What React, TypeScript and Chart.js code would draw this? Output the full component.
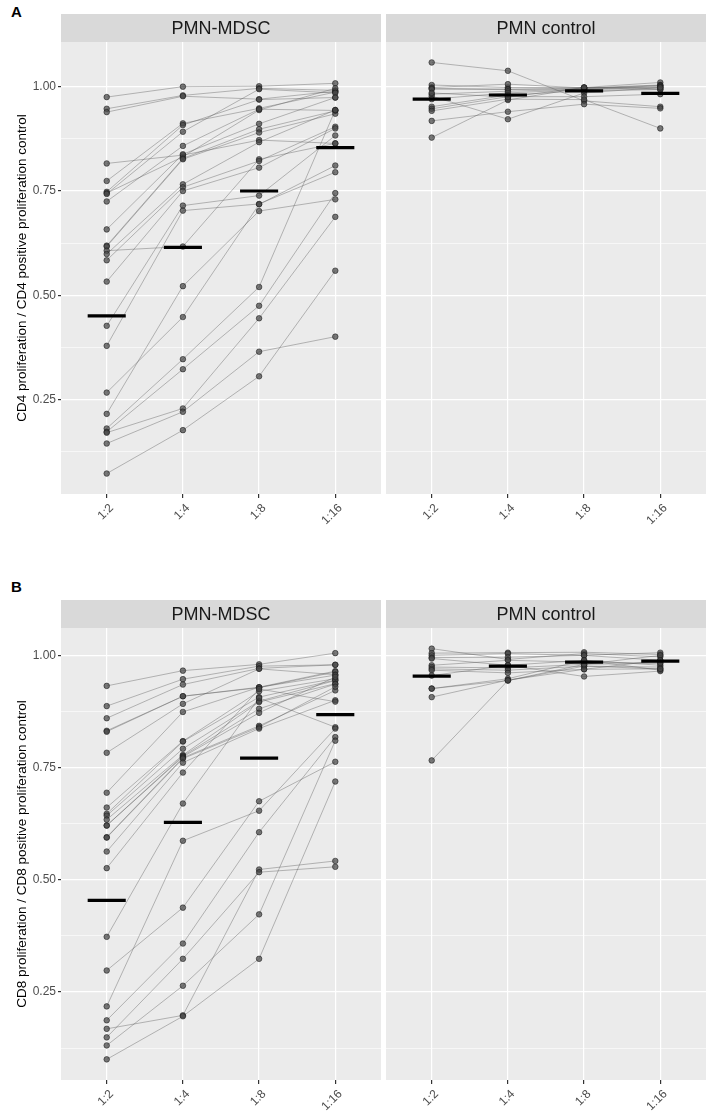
import React, { useEffect, useRef } from "react";
import { Chart, registerables } from "chart.js";

Chart.register(...registerables);

const ratioLabels = ["1:2", "1:4", "1:8", "1:16"];
const facetTitles = ["PMN-MDSC", "PMN control"];
const yMajorTicks = [0.25, 0.5, 0.75, 1.0];
const yGridTicks = [0.125, 0.25, 0.375, 0.5, 0.625, 0.75, 0.875, 1.0];

// Panel A (CD4), PMN-MDSC — one entry per donor, one array per ratio
const cd4MdscR2 = [0.975, 0.947, 0.939, 0.816, 0.774, 0.748, 0.745, 0.743, 0.725, 0.658, 0.619, 0.617, 0.607, 0.599, 0.584, 0.533, 0.427, 0.379, 0.267, 0.216, 0.181, 0.173, 0.171, 0.145, 0.073];
const cd4MdscR4 = [1.0, 0.979, 0.977, 0.836, 0.912, 0.908, 0.832, 0.892, 0.858, 0.838, 0.828, 0.826, 0.617, 0.766, 0.759, 0.75, 0.715, 0.703, 0.448, 0.522, 0.347, 0.323, 0.229, 0.221, 0.177];
const cd4MdscR8 = [1.001, 0.996, 0.97, 0.872, 0.948, 0.969, 0.944, 0.994, 0.946, 0.911, 0.898, 0.89, 0.826, 0.867, 0.822, 0.806, 0.739, 0.719, 0.718, 0.702, 0.52, 0.475, 0.445, 0.365, 0.306];
const cd4MdscR16 = [1.008, 0.991, 0.989, 0.864, 0.987, 0.974, 0.996, 0.985, 0.943, 0.974, 0.942, 0.935, 0.864, 0.944, 0.904, 0.9, 0.883, 0.795, 0.811, 0.73, 0.944, 0.745, 0.688, 0.401, 0.559];
const cd4MdscBars = [0.451, 0.615, 0.75, 0.854];

// Panel A (CD4), PMN control
const cd4CtrlR2 = [1.058, 1.004, 0.998, 0.996, 0.994, 0.982, 0.977, 0.97, 0.952, 0.947, 0.942, 0.918, 0.878, 0.985];
const cd4CtrlR4 = [1.038, 0.998, 1.006, 0.994, 0.993, 0.989, 0.922, 0.985, 0.98, 0.976, 0.97, 0.94, 0.968, 0.975];
const cd4CtrlR8 = [0.966, 0.998, 0.997, 0.996, 0.995, 0.994, 0.985, 0.993, 0.99, 0.976, 0.969, 0.958, 0.998, 0.998];
const cd4CtrlR16 = [0.952, 1.01, 1.004, 1.003, 1.002, 1.0, 0.998, 0.996, 0.993, 0.982, 0.9, 0.948, 0.993, 0.998];
const cd4CtrlBars = [0.97, 0.98, 0.99, 0.984];

// Panel B (CD8), PMN-MDSC
const cd8MdscR2 = [0.932, 0.887, 0.86, 0.832, 0.83, 0.783, 0.694, 0.661, 0.647, 0.643, 0.634, 0.621, 0.621, 0.595, 0.594, 0.563, 0.526, 0.373, 0.298, 0.218, 0.187, 0.168, 0.149, 0.131, 0.1];
const cd8MdscR4 = [0.966, 0.947, 0.935, 0.909, 0.909, 0.892, 0.874, 0.809, 0.808, 0.792, 0.778, 0.776, 0.774, 0.772, 0.77, 0.761, 0.739, 0.67, 0.438, 0.587, 0.358, 0.198, 0.324, 0.264, 0.196];
const cd8MdscR8 = [0.98, 0.976, 0.971, 0.929, 0.928, 0.97, 0.929, 0.92, 0.907, 0.898, 0.896, 0.881, 0.872, 0.843, 0.84, 0.837, 0.925, 0.905, 0.675, 0.654, 0.606, 0.523, 0.517, 0.423, 0.324];
const cd8MdscR16 = [1.005, 0.979, 0.979, 0.965, 0.963, 0.957, 0.956, 0.948, 0.945, 0.944, 0.937, 0.936, 0.952, 0.922, 0.93, 0.9, 0.897, 0.84, 0.763, 0.837, 0.818, 0.542, 0.529, 0.81, 0.719];
const cd8MdscBars = [0.454, 0.628, 0.771, 0.868];

// Panel B (CD8), PMN control
const cd8CtrlR2 = [1.015, 1.005, 1.0, 0.995, 0.993, 0.978, 0.974, 0.97, 0.967, 0.955, 0.926, 0.926, 0.907, 0.766];
const cd8CtrlR4 = [0.991, 1.006, 1.004, 0.996, 0.978, 0.989, 0.972, 0.967, 0.961, 0.978, 0.948, 0.944, 0.945, 0.944];
const cd8CtrlR8 = [1.004, 1.007, 1.0, 1.0, 0.989, 0.985, 0.98, 0.976, 0.969, 0.953, 0.989, 0.976, 0.969, 0.98];
const cd8CtrlR16 = [0.997, 1.002, 1.006, 0.989, 0.967, 0.983, 1.0, 0.974, 0.97, 0.965, 0.978, 0.97, 0.989, 0.983];
const cd8CtrlBars = [0.954, 0.976, 0.985, 0.987];

const cd4Title = "CD4 proliferation / CD4 positive proliferation control";
const cd8Title = "CD8 proliferation / CD8 positive proliferation control";
const cd4Range = [0.024, 1.107];
const cd8Range = [0.054, 1.061];

const FONT = '"Liberation Sans", Arial, Helvetica, sans-serif';
const STRIP_H = 28;

const stripPlugin = {
  id: "strip",
  beforeDraw(chart: any, _args: any, opts: any) {
    const { ctx, chartArea } = chart;
    const { left, top, right, bottom } = chartArea;
    ctx.save();
    ctx.fillStyle = "#EBEBEB";
    ctx.fillRect(left, top, right - left, bottom - top);
    ctx.fillStyle = "#D9D9D9";
    ctx.fillRect(left, top - STRIP_H, right - left, STRIP_H);
    ctx.fillStyle = "#1A1A1A";
    ctx.font = `18px ${FONT}`;
    ctx.textAlign = "center";
    ctx.textBaseline = "middle";
    ctx.fillText(opts.text, (left + right) / 2, top - STRIP_H / 2 + 1);
    ctx.restore();
  },
};

type FacetProps = {
  cols: number[][];
  bars: number[];
  range: number[];
  title: string;
  showY: boolean;
  yTitle: string;
  left: number;
  top: number;
  width: number;
  height: number;
};

function Facet(p: FacetProps) {
  const ref = useRef<HTMLCanvasElement | null>(null);
  useEffect(() => {
    if (!ref.current) return;
    const datasets: any[] = [];
    const n = p.cols[0].length;
    for (let s = 0; s < n; s++) {
      datasets.push({
        type: "line",
        data: p.cols.map((c, k) => ({ x: k + 1, y: c[s] })),
        borderColor: "rgba(90,90,90,0.45)",
        borderWidth: 0.9,
        pointRadius: 0,
        pointHoverRadius: 0,
        showLine: true,
        tension: 0,
        order: 3,
      });
    }
    const pts: any[] = [];
    p.cols.forEach((c, k) => c.forEach((v) => pts.push({ x: k + 1, y: v })));
    datasets.push({
      type: "scatter",
      data: pts,
      pointRadius: 2.8,
      pointHoverRadius: 2.8,
      backgroundColor: "rgba(70,70,70,0.72)",
      borderColor: "rgba(25,25,25,0.8)",
      borderWidth: 0.7,
      order: 2,
    });
    p.bars.forEach((m, k) => {
      datasets.push({
        type: "line",
        data: [
          { x: k + 1 - 0.25, y: m },
          { x: k + 1 + 0.25, y: m },
        ],
        borderColor: "#000",
        borderWidth: 3.2,
        borderCapStyle: "butt",
        pointRadius: 0,
        pointHoverRadius: 0,
        order: 1,
      });
    });
    const chart = new Chart(ref.current, {
      type: "scatter",
      data: { datasets },
      plugins: [stripPlugin],
      options: {
        animation: false,
        responsive: false,
        maintainAspectRatio: false,
        events: [],
        layout: { autoPadding: false, padding: { top: STRIP_H, left: 0, right: 0, bottom: 0 } },
        plugins: {
          legend: { display: false },
          tooltip: { enabled: false },
          strip: { text: p.title },
        } as any,
        scales: {
          x: {
            type: "linear",
            min: 0.4,
            max: 4.6,
            afterBuildTicks: (s: any) => {
              s.ticks = ratioLabels.map((_, i) => ({ value: i + 1 }));
            },
            afterFit: (s: any) => {
              s.height = 40;
              s.paddingLeft = 0;
              s.paddingRight = 0;
            },
            ticks: {
              autoSkip: false,
              minRotation: 45,
              maxRotation: 45,
              padding: 3,
              labelOffset: 5,
              color: "#4D4D4D",
              font: { family: FONT, size: 12 },
              callback: (v: any) => ratioLabels[Math.round(v) - 1] ?? "",
            },
            grid: {
              color: "#FFFFFF",
              lineWidth: 1.2,
              tickColor: "#333333",
              tickLength: 4,
            },
            border: { display: false },
          },
          y: {
            type: "linear",
            min: p.range[0],
            max: p.range[1],
            afterBuildTicks: (s: any) => {
              s.ticks = yGridTicks.map((v) => ({ value: v }));
            },
            afterFit: (s: any) => {
              s.width = p.showY ? 61 : 0;
              s.paddingTop = 0;
              s.paddingBottom = 0;
            },
            ticks: {
              display: p.showY,
              autoSkip: false,
              padding: 2,
              color: "#4D4D4D",
              font: { family: FONT, size: 12 },
              callback: (v: any) => (yMajorTicks.includes(v) ? Number(v).toFixed(2) : ""),
            },
            grid: {
              color: "#FFFFFF",
              lineWidth: (ctx: any) => (yMajorTicks.includes(ctx.tick?.value) ? 1.2 : 0.6),
              tickColor: (ctx: any) => (yMajorTicks.includes(ctx.tick?.value) ? "#333333" : "rgba(0,0,0,0)"),
              tickLength: 3,
              drawTicks: p.showY,
            },
            border: { display: false },
            title: {
              display: p.showY,
              text: p.yTitle,
              color: "#000000",
              font: { family: FONT, size: 13.5 },
              padding: { top: 14, bottom: 0 },
            },
          },
        },
      } as any,
    });
    return () => chart.destroy();
  }, []);
  return (
    <canvas
      ref={ref}
      width={p.width}
      height={p.height}
      style={{ position: "absolute", left: p.left, top: p.top, width: p.width, height: p.height }}
    />
  );
}

export default function App() {
  const labelStyle: React.CSSProperties = {
    position: "absolute",
    fontFamily: FONT,
    fontWeight: "bold",
    fontSize: 15,
    color: "#000",
    lineHeight: "15px",
  };
  return (
    <div style={{ position: "absolute", left: 0, top: 0, width: 708, height: 1117, background: "#fff", overflow: "hidden" }}>
      <div style={{ ...labelStyle, left: 11, top: 4 }}>A</div>
      <div style={{ ...labelStyle, left: 11, top: 579 }}>B</div>
      <Facet cols={[cd4MdscR2, cd4MdscR4, cd4MdscR8, cd4MdscR16]} bars={cd4MdscBars} range={cd4Range} title={facetTitles[0]} showY={true} yTitle={cd4Title} left={0} top={14} width={381} height={520} />
      <Facet cols={[cd4CtrlR2, cd4CtrlR4, cd4CtrlR8, cd4CtrlR16]} bars={cd4CtrlBars} range={cd4Range} title={facetTitles[1]} showY={false} yTitle="" left={386} top={14} width={320} height={520} />
      <Facet cols={[cd8MdscR2, cd8MdscR4, cd8MdscR8, cd8MdscR16]} bars={cd8MdscBars} range={cd8Range} title={facetTitles[0]} showY={true} yTitle={cd8Title} left={0} top={600} width={381} height={520} />
      <Facet cols={[cd8CtrlR2, cd8CtrlR4, cd8CtrlR8, cd8CtrlR16]} bars={cd8CtrlBars} range={cd8Range} title={facetTitles[1]} showY={false} yTitle="" left={386} top={600} width={320} height={520} />
    </div>
  );
}
